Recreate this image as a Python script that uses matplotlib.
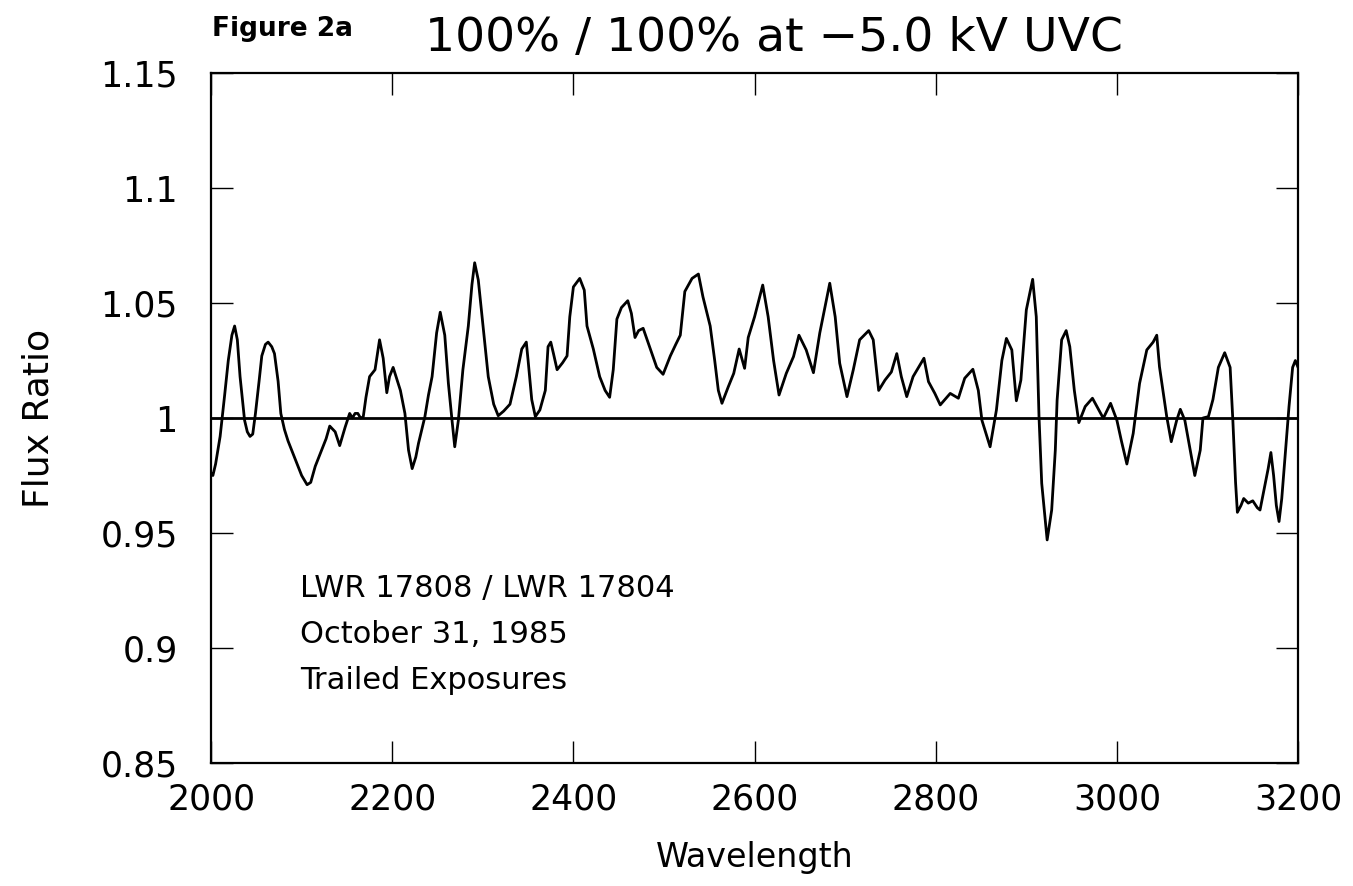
import numpy as np
import matplotlib
matplotlib.use("Agg")
import matplotlib.pyplot as plt
from matplotlib.ticker import FuncFormatter

# flux ratio
wavelength = [
    2000, 2002, 2005, 2010, 2015, 2019, 2023, 2026, 2029, 2032, 2037, 2040, 2043, 2046,
    2049, 2053, 2056, 2060, 2063, 2067, 2070, 2074, 2077, 2081, 2085, 2093, 2100, 2106,
    2110, 2115, 2122, 2127, 2131, 2137, 2142, 2145, 2148, 2153, 2156, 2159, 2162, 2165,
    2168, 2171, 2175, 2181, 2186, 2190, 2194, 2197, 2201, 2205, 2209, 2214, 2218, 2222,
    2226, 2229, 2236, 2240, 2244, 2249, 2253, 2258, 2262, 2266, 2269, 2273, 2278, 2284,
    2288, 2291, 2295, 2301, 2306, 2312, 2317, 2323, 2330, 2337, 2343, 2348, 2350, 2354,
    2358, 2363, 2369, 2372, 2375, 2378, 2382, 2388, 2393, 2396, 2400, 2407, 2412, 2415,
    2422, 2429, 2435, 2440, 2444, 2448, 2453, 2460, 2464, 2468, 2472, 2477, 2485, 2492,
    2499, 2507, 2513, 2518, 2523, 2531, 2538, 2543, 2551, 2556, 2560, 2564, 2571, 2577,
    2583, 2589, 2593, 2600, 2609, 2615, 2621, 2627, 2635, 2643, 2649, 2657, 2665, 2672,
    2683, 2689, 2694, 2702, 2709, 2716, 2726, 2731, 2737, 2744, 2751, 2757, 2762, 2768,
    2775, 2787, 2792, 2799, 2805, 2816, 2825, 2832, 2841, 2847, 2851, 2860, 2867, 2873,
    2878, 2884, 2889, 2894, 2900, 2907, 2911, 2914, 2917, 2923, 2928, 2932, 2934, 2939,
    2944, 2948, 2953, 2958, 2965, 2973, 2979, 2985, 2993, 3000, 3005, 3011, 3018, 3025,
    3033, 3040, 3044, 3047, 3055, 3060, 3066, 3070, 3075, 3081, 3086, 3092, 3095, 3101,
    3106, 3112, 3119, 3125, 3128, 3131, 3133, 3137, 3140, 3145, 3150, 3155, 3158, 3162,
    3167, 3170, 3173, 3176, 3179, 3182, 3186, 3190, 3194, 3197, 3200,
]
flux_ratio = [
    0.976, 0.975, 0.980, 0.992, 1.010, 1.025, 1.036, 1.040, 1.034, 1.018, 0.999, 0.994, 0.992, 0.993,
    1.002, 1.016, 1.027, 1.032, 1.033, 1.031, 1.028, 1.016, 1.002, 0.995, 0.990, 0.982, 0.975, 0.971,
    0.972, 0.979, 0.986, 0.991, 0.9965, 0.994, 0.988, 0.992, 0.996, 1.002, 1.000, 1.002, 1.002, 1.000,
    1.0005, 1.009, 1.018, 1.021, 1.034, 1.026, 1.011, 1.018, 1.022, 1.017, 1.012, 1.002, 0.986, 0.978,
    0.983, 0.989, 1.0005, 1.010, 1.018, 1.037, 1.046, 1.036, 1.015, 0.999, 0.9875, 0.999, 1.021, 1.040,
    1.058, 1.0675, 1.060, 1.037, 1.018, 1.006, 1.001, 1.003, 1.006, 1.018, 1.030, 1.033, 1.025, 1.008,
    1.0006, 1.0035, 1.012, 1.031, 1.033, 1.028, 1.021, 1.024, 1.027, 1.044, 1.057, 1.0607, 1.0556, 1.040,
    1.030, 1.018, 1.012, 1.009, 1.021, 1.043, 1.048, 1.051, 1.0455, 1.035, 1.038, 1.039, 1.030, 1.022,
    1.019, 1.027, 1.032, 1.036, 1.055, 1.0607, 1.0626, 1.0527, 1.040, 1.025, 1.012, 1.0064, 1.0136, 1.0194,
    1.030, 1.0216, 1.035, 1.044, 1.0578, 1.044, 1.025, 1.010, 1.0194, 1.0267, 1.036, 1.0296, 1.0197, 1.037,
    1.0586, 1.044, 1.0238, 1.0093, 1.021, 1.034, 1.038, 1.034, 1.012, 1.0165, 1.020, 1.028, 1.018, 1.0093,
    1.018, 1.026, 1.0158, 1.0107, 1.0057, 1.0107, 1.0086, 1.0173, 1.0212, 1.012, 0.999, 0.9875, 1.0035, 1.025,
    1.0346, 1.0296, 1.0075, 1.0165, 1.047, 1.0603, 1.044, 1.0006, 0.9716, 0.947, 0.960, 0.986, 1.0078, 1.034,
    1.038, 1.031, 1.012, 0.998, 1.005, 1.0086, 1.0042, 0.9999, 1.0064, 0.999, 0.990, 0.980, 0.9933, 1.015,
    1.0296, 1.033, 1.036, 1.0223, 1.0006, 0.9897, 0.999, 1.0038, 0.999, 0.986, 0.975, 0.986, 1.000, 1.0006,
    1.008, 1.022, 1.0284, 1.022, 0.999, 0.972, 0.959, 0.962, 0.965, 0.963, 0.964, 0.961, 0.960, 0.968,
    0.978, 0.985, 0.975, 0.962, 0.955, 0.965, 0.985, 1.005, 1.022, 1.025, 1.022,
]

x_ticks = [2000, 2200, 2400, 2600, 2800, 3000, 3200]
y_ticks = [0.85, 0.9, 0.95, 1.0, 1.05, 1.1, 1.15]
notes = ["LWR 17808 / LWR 17804", "October 31, 1985", "Trailed Exposures"]

plt.rcParams['font.family'] = ['DejaVu Sans']

fig = plt.figure(figsize=(13.53, 8.86), dpi=100)
ax = fig.add_axes([0.156, 0.1388, 0.8034, 0.7788])

ax.axhline(1.0, color='black', lw=2.0)
ax.plot(wavelength, flux_ratio, color='black', lw=2.0)

ax.set_xlim(2000, 3200)
ax.set_ylim(0.85, 1.15)
ax.set_xticks(x_ticks)
ax.set_yticks(y_ticks)
ax.yaxis.set_major_formatter(FuncFormatter(lambda v, p: f"{v:g}"))
ax.tick_params(direction='in', length=16, width=1.0, top=True, right=True,
               labelsize=25)
ax.tick_params(axis='x', pad=14)
ax.tick_params(axis='y', pad=24)
for s in ax.spines.values():
    s.set_linewidth(1.6)

ax.set_xlabel("Wavelength", fontsize=24, labelpad=18)
ax.set_ylabel("Flux Ratio", fontsize=26, labelpad=32)

for i, line in enumerate(notes):
    ax.text(0.082, 0.2406 - i * 0.067, line, transform=ax.transAxes,
            fontsize=22, va='baseline', ha='left')

fig.text(212 / 1353, 1 - 36 / 886, "Figure 2a", fontsize=19, fontweight='bold',
         va='baseline', ha='left')
fig.text(425 / 1353, 1 - 51 / 886, "100% / 100% at \u22125.0 kV UVC", fontsize=34,
         va='baseline', ha='left')

fig.savefig("out.png", dpi=100)
